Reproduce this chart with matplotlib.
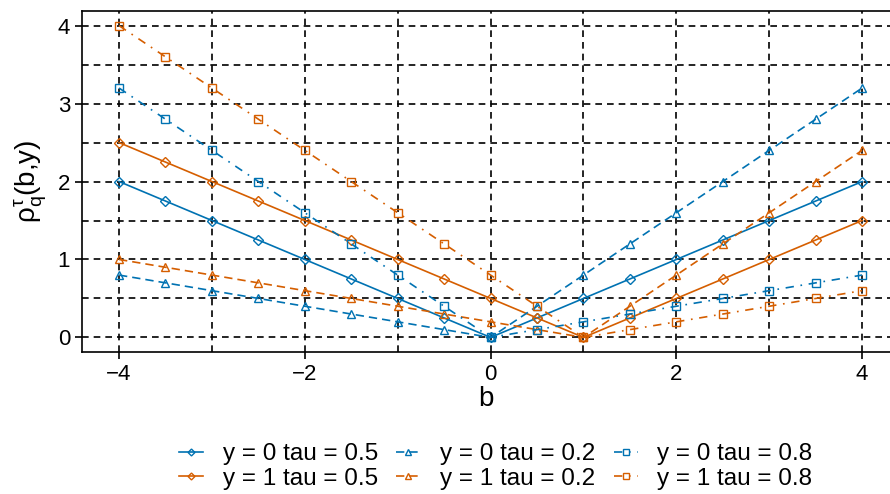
import numpy as np
import matplotlib.pyplot as plt

plt.rcParams['font.family'] = ['Liberation Sans', 'DejaVu Sans']
plt.rcParams['mathtext.fontset'] = 'custom'
plt.rcParams['mathtext.rm'] = 'Liberation Sans'
plt.rcParams['mathtext.it'] = 'Liberation Sans'
plt.rcParams['mathtext.default'] = 'regular'

b = [-4, -3.5, -3, -2.5, -2, -1.5, -1, -0.5, 0, 0.5, 1, 1.5, 2, 2.5, 3, 3.5, 4]

# loss values read per curve
y0_t05 = [2, 1.75, 1.5, 1.25, 1, 0.75, 0.5, 0.25, 0, 0.25, 0.5, 0.75, 1, 1.25, 1.5, 1.75, 2]
y1_t05 = [2.5, 2.25, 2, 1.75, 1.5, 1.25, 1, 0.75, 0.5, 0.25, 0, 0.25, 0.5, 0.75, 1, 1.25, 1.5]
y0_t02 = [0.8, 0.7, 0.6, 0.5, 0.4, 0.3, 0.2, 0.1, 0, 0.4, 0.8, 1.2, 1.6, 2.0, 2.4, 2.8, 3.2]
y1_t02 = [1.0, 0.9, 0.8, 0.7, 0.6, 0.5, 0.4, 0.3, 0.2, 0.1, 0, 0.4, 0.8, 1.2, 1.6, 2.0, 2.4]
y0_t08 = [3.2, 2.8, 2.4, 2.0, 1.6, 1.2, 0.8, 0.4, 0, 0.1, 0.2, 0.3, 0.4, 0.5, 0.6, 0.7, 0.8]
y1_t08 = [4.0, 3.6, 3.2, 2.8, 2.4, 2.0, 1.6, 1.2, 0.8, 0.4, 0, 0.1, 0.2, 0.3, 0.4, 0.5, 0.6]

blue = '#0072B2'
orange = '#D55E00'

fig = plt.figure(figsize=(8.9, 4.94), dpi=100)
ax = fig.add_axes([0.092, 0.287, 0.908, 0.691])

for v in np.arange(-4, 5, 1):
    ax.axvline(v, color='black', lw=1.2, dashes=(4, 3), zorder=0)
for h in np.arange(0, 4.01, 0.5):
    ax.axhline(h, color='black', lw=1.2, dashes=(4, 3), zorder=0)

curves = [
    (y0_t05, blue, 'D', '-', 'y = 0 tau = 0.5'),
    (y1_t05, orange, 'D', '-', 'y = 1 tau = 0.5'),
    (y0_t02, blue, '^', (0, (5, 3)), 'y = 0 tau = 0.2'),
    (y1_t02, orange, '^', (0, (5, 3)), 'y = 1 tau = 0.2'),
    (y0_t08, blue, 's', (0, (5, 4, 1, 4)), 'y = 0 tau = 0.8'),
    (y1_t08, orange, 's', (0, (5, 4, 1, 4)), 'y = 1 tau = 0.8'),
]
handles = []
for vals, c, m, ls, lab in curves:
    h, = ax.plot(b, vals, color=c, marker=m, ls=ls, lw=1.2, ms=6 if m != 'D' else 5,
                 mfc='none', mew=1.0, label=lab)
    handles.append(h)

ax.set_xlim(-4.4, 4.3)
ax.set_ylim(-0.19, 4.19)
ax.set_xticks([-4, -2, 0, 2, 4])
ax.set_xticklabels(['\u22124', '\u22122', '0', '2', '4'])
ax.set_yticks([0, 1, 2, 3, 4])
ax.tick_params(labelsize=16, length=5, width=1.2, direction='out', color='black')
ax.spines['right'].set_visible(False)
for s in ['left', 'bottom', 'top']:
    ax.spines[s].set_linewidth(1.2)

ax.set_xlabel('b', fontsize=20, labelpad=1)
ax.set_ylabel(r'$\rho_q^{\tau}$(b,y)', fontsize=20, labelpad=6)

fig.legend(handles=handles, loc='lower center', bbox_to_anchor=(0.557, -0.036), ncol=3,
           frameon=False, fontsize=17.5, handlelength=1.0, columnspacing=0.75,
           handletextpad=0.8, labelspacing=0.1, markerscale=0.7)

fig.savefig('out.png', dpi=100)
